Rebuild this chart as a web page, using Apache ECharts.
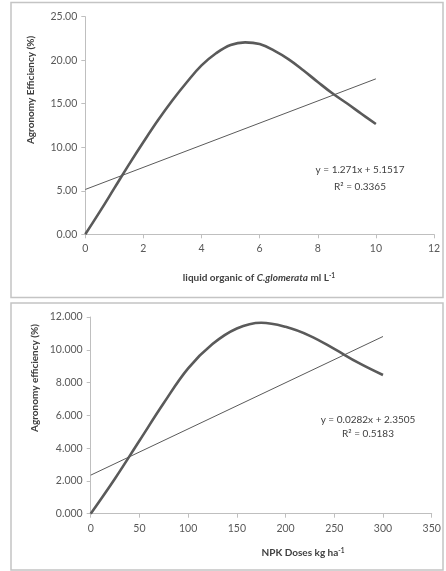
<!DOCTYPE html>
<html><head><meta charset="utf-8">
<script src="https://cdn.jsdelivr.net/npm/echarts@6/dist/echarts.min.js"></script>
<style>html,body{margin:0;padding:0;background:#fff}#c{width:446px;height:571px}</style>
</head><body><div id="c"></div>
<script>
// Chart 1: liquid organic of C.glomerata
const doseA = [0, 0.5, 1, 1.5, 2, 2.5, 3, 3.5, 4, 4.5, 5, 5.5, 6, 6.5, 7, 7.5, 8, 8.5, 9, 9.5, 10];
const effA = [0, 2.6, 5.3, 8.0, 10.6, 13.1, 15.4, 17.5, 19.4, 20.8, 21.75, 22.05, 21.85, 21.1, 20.1, 18.85, 17.5, 16.2, 15.05, 13.85, 12.67];
const trendA = { slope: 1.271, intercept: 5.1517, from: 0, to: 10 };
const eqA = ['y = 1.271x + 5.1517', 'R² = 0.3365'];
// Chart 2: NPK doses
const doseB = [0, 25, 50, 75, 100, 125, 150, 175, 200, 225, 250, 275, 300];
const effB = [0, 2.15, 4.45, 6.75, 8.87, 10.35, 11.3, 11.65, 11.4, 10.85, 10.05, 9.2, 8.46];
const trendB = { slope: 0.0282, intercept: 2.3505, from: 0, to: 300 };
const eqB = ['y = 0.0282x + 2.3505', 'R² = 0.5183'];

const FF = 'Lato, "Open Sans", sans-serif';
const axisCol = '#bfbfbf';
const labCol = '#595959';
const lineCol = '#5a5a5a';

function pairs(xs, ys) { return xs.map((x, i) => [x, ys[i]]); }
function trend(t) { return [[t.from, t.intercept + t.slope * t.from], [t.to, t.intercept + t.slope * t.to]]; }

const chart = echarts.init(document.getElementById('c'), null, { renderer: 'canvas' });
const xAxisBase = {
  type: 'value',
  axisLine: { lineStyle: { color: axisCol, width: 1 } },
  axisTick: { show: true, length: 4, lineStyle: { color: axisCol } },
  axisLabel: { color: labCol, fontFamily: FF, fontSize: 10.5, margin: 9 },
  splitLine: { show: false }
};
const yAxisBase = {
  type: 'value',
  axisLine: { show: true, lineStyle: { color: axisCol, width: 1 } },
  axisTick: { show: true, length: 4, lineStyle: { color: axisCol } },
  splitLine: { show: false }
};

const titleStyle = { fontFamily: FF, fontSize: 10, fontWeight: 'bold', fill: '#404040' };
const eqStyle = { fontFamily: FF, fontSize: 10, fill: '#404040', align: 'center', verticalAlign: 'middle' };
const richT = {
  b: { fontFamily: FF, fontSize: 10, fontWeight: 'bold', fill: '#404040', lineHeight: 12, verticalAlign: 'bottom' },
  i: { fontFamily: FF, fontSize: 10, fontWeight: 'bold', fontStyle: 'italic', fill: '#404040', lineHeight: 12, verticalAlign: 'bottom' },
  s: { fontFamily: FF, fontSize: 6.5, fontWeight: 'bold', fill: '#404040', lineHeight: 12, verticalAlign: 'top', padding: [1, 0, 0, 0] }
};

chart.setOption({
  animation: false,
  grid: [
    { left: 85.3, right: 12, top: 16.7, bottom: 336.7 },
    { left: 90.7, right: 14.3, top: 317, bottom: 57.3 }
  ],
  xAxis: [
    Object.assign({}, xAxisBase, { gridIndex: 0, min: 0, max: 12, interval: 2 }),
    Object.assign({}, xAxisBase, { gridIndex: 1, min: 0, max: 350, interval: 50 })
  ],
  yAxis: [
    Object.assign({}, yAxisBase, { gridIndex: 0, min: 0, max: 25, interval: 5,
      axisLabel: { color: labCol, fontFamily: FF, fontSize: 10.5, margin: 8, formatter: v => v.toFixed(2) } }),
    Object.assign({}, yAxisBase, { gridIndex: 1, min: 0, max: 12, interval: 2,
      axisLabel: { color: labCol, fontFamily: FF, fontSize: 10.5, margin: 8, formatter: v => v.toFixed(3) } })
  ],
  series: [
    { type: 'line', xAxisIndex: 0, yAxisIndex: 0, data: pairs(doseA, effA), smooth: 0.4, symbol: 'none',
      lineStyle: { color: lineCol, width: 2.6 } },
    { type: 'line', xAxisIndex: 0, yAxisIndex: 0, data: trend(trendA), symbol: 'none',
      lineStyle: { color: lineCol, width: 1 } },
    { type: 'line', xAxisIndex: 1, yAxisIndex: 1, data: pairs(doseB, effB), smooth: 0.4, symbol: 'none',
      lineStyle: { color: lineCol, width: 2.6 } },
    { type: 'line', xAxisIndex: 1, yAxisIndex: 1, data: trend(trendB), symbol: 'none',
      lineStyle: { color: lineCol, width: 1 } }
  ],
  graphic: [
    { type: 'rect', shape: { x: 11, y: 2.5, width: 432, height: 295 }, style: { fill: 'none', stroke: '#c4c4c4', lineWidth: 1.5 }, z: -1 },
    { type: 'rect', shape: { x: 11, y: 303, width: 432, height: 267 }, style: { fill: 'none', stroke: '#c4c4c4', lineWidth: 1.5 }, z: -1 },
    { type: 'text', x: 31, y: 90, rotation: Math.PI / 2,
      style: Object.assign({ text: 'Agronomy Efficiency (%)', align: 'center', verticalAlign: 'middle' }, titleStyle) },
    { type: 'text', x: 35, y: 378, rotation: Math.PI / 2,
      style: Object.assign({ text: 'Agronomy efficiency (%)', align: 'center', verticalAlign: 'middle' }, titleStyle) },
    { type: 'text', x: 259, y: 277,
      style: Object.assign({}, titleStyle, {
        text: '{b|liquid organic of }{i|C.glomerata}{b| ml L}{s|-1}', align: 'center', verticalAlign: 'middle', rich: richT }) },
    { type: 'text', x: 303, y: 552,
      style: Object.assign({}, titleStyle, {
        text: '{b|NPK Doses kg ha}{s|-1}', align: 'center', verticalAlign: 'middle', rich: richT }) },
    { type: 'text', x: 360, y: 170, style: Object.assign({ text: eqA[0] }, eqStyle) },
    { type: 'text', x: 360, y: 187, style: Object.assign({ text: eqA[1] }, eqStyle) },
    { type: 'text', x: 368, y: 420, style: Object.assign({ text: eqB[0] }, eqStyle) },
    { type: 'text', x: 368, y: 434, style: Object.assign({ text: eqB[1] }, eqStyle) }
  ]
});
</script></body></html>
